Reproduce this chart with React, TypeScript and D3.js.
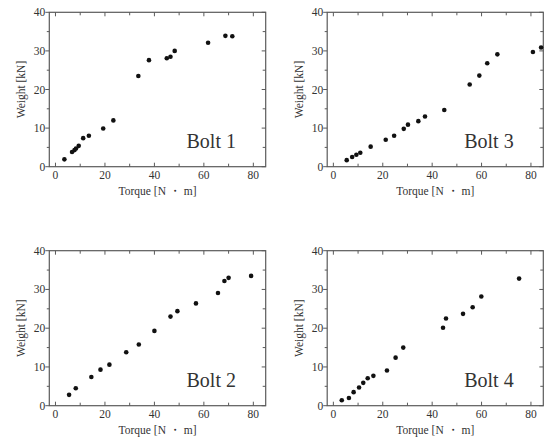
import React from "react";
import * as d3 from "d3";

const bolt1Torque = [3.6, 6.7, 7.7, 8.3, 9.4, 11.2, 13.5, 19.3, 23.4, 33.5, 37.8, 45.0, 46.5, 48.2, 61.7, 68.7, 71.5];
const bolt1Weight = [1.9, 3.8, 4.3, 4.7, 5.4, 7.4, 8.0, 9.9, 12.0, 23.5, 27.6, 28.1, 28.5, 30.0, 32.1, 33.9, 33.8];

const bolt3Torque = [5.4, 7.6, 9.3, 10.9, 15.1, 21.2, 24.6, 28.5, 30.2, 34.4, 37.1, 44.9, 55.2, 59.1, 62.3, 66.4, 80.8, 84.1];
const bolt3Weight = [1.7, 2.5, 3.1, 3.6, 5.2, 7.0, 8.0, 9.8, 10.9, 11.8, 13.0, 14.7, 21.3, 23.6, 26.8, 29.1, 29.7, 30.9];

const bolt2Torque = [5.5, 8.2, 14.5, 18.2, 21.8, 28.6, 33.7, 40.0, 46.5, 49.3, 56.8, 65.7, 68.3, 70.0, 79.1];
const bolt2Weight = [2.8, 4.5, 7.4, 9.3, 10.6, 13.8, 15.8, 19.3, 23.0, 24.4, 26.4, 29.1, 32.2, 33.0, 33.5];

const bolt4Torque = [3.4, 6.3, 8.2, 10.4, 12.1, 13.9, 16.2, 21.7, 25.2, 28.3, 44.4, 45.6, 52.5, 56.4, 59.9, 75.2];
const bolt4Weight = [1.4, 2.0, 3.5, 4.7, 5.9, 7.1, 7.7, 9.1, 12.4, 15.0, 20.1, 22.5, 23.7, 25.4, 28.2, 32.8];

const xTickLabels = [0, 20, 40, 60, 80];
const yTickLabels = [0, 10, 20, 30, 40];
const xMinorTicks = [10, 30, 50, 70];
const yMinorTicks = [5, 15, 25, 35];

const xDomain: [number, number] = [-2.5, 85];
const yDomain: [number, number] = [0, 40];

const FONT = "Liberation Serif, Times New Roman, DejaVu Serif, serif";
const FRAME = "#5a5a5a";
const TEXT = "#333";

type PanelProps = {
  left: number;
  top: number;
  width: number;
  height: number;
  label: string;
  xs: number[];
  ys: number[];
};

function Panel({ left, top, width, height, label, xs, ys }: PanelProps) {
  const x = d3.scaleLinear().domain(xDomain).range([left, left + width]);
  const y = d3.scaleLinear().domain(yDomain).range([top + height, top]);
  const bottom = top + height;
  const right = left + width;
  const majLen = 4;
  const minLen = 3;
  const ts = { fontFamily: FONT };
  return (
    <g>
      <rect x={left} y={top} width={width} height={height} fill="none" stroke={FRAME} strokeWidth={1.2} />
      {xTickLabels.map((t) => (
        <g key={"xt" + t}>
          <line x1={x(t)} x2={x(t)} y1={bottom} y2={bottom - majLen} stroke={FRAME} strokeWidth={1} />
          <line x1={x(t)} x2={x(t)} y1={top} y2={top + majLen} stroke={FRAME} strokeWidth={1} />
          <text x={x(t)} y={bottom + 12} textAnchor="middle" fontSize={11.5} style={ts} fill={TEXT}>
            {t}
          </text>
        </g>
      ))}
      {xMinorTicks.map((t) => (
        <g key={"xm" + t}>
          <line x1={x(t)} x2={x(t)} y1={bottom} y2={bottom - minLen} stroke={FRAME} strokeWidth={1} />
          <line x1={x(t)} x2={x(t)} y1={top} y2={top + minLen} stroke={FRAME} strokeWidth={1} />
        </g>
      ))}
      {yTickLabels.map((t) => (
        <g key={"yt" + t}>
          <line x1={left} x2={left - majLen} y1={y(t)} y2={y(t)} stroke={FRAME} strokeWidth={1} />
          <line x1={right} x2={right - majLen} y1={y(t)} y2={y(t)} stroke={FRAME} strokeWidth={1} />
          <text x={left - 4} y={y(t) + 4} textAnchor="end" fontSize={11.5} style={ts} fill={TEXT}>
            {t}
          </text>
        </g>
      ))}
      {yMinorTicks.map((t) => (
        <g key={"ym" + t}>
          <line x1={left} x2={left - 2.5} y1={y(t)} y2={y(t)} stroke={FRAME} strokeWidth={1} />
          <line x1={right} x2={right - minLen} y1={y(t)} y2={y(t)} stroke={FRAME} strokeWidth={1} />
        </g>
      ))}
      {xs.map((v, i) => (
        <circle key={"p" + i} cx={x(v)} cy={y(ys[i])} r={2.3} fill="#111" />
      ))}
      <text x={left + width * 0.634} y={bottom - 18.5} fontSize={20} style={ts} fill={TEXT}>
        {label}
      </text>
      <text x={left + width / 2} y={bottom + 28} textAnchor="middle" fontSize={11.5} style={ts} fill={TEXT}>
        Torque [N ・ m]
      </text>
      <text
        transform={`translate(${left - 24},${top + height / 2}) rotate(-90)`}
        textAnchor="middle"
        fontSize={11.5}
        style={ts}
        fill={TEXT}
      >
        Weight [kN]
      </text>
    </g>
  );
}

export default function App() {
  return (
    <svg width={549} height={439} style={{ position: "absolute", left: 0, top: 0, background: "#fff", fontFamily: FONT }}>
      <rect x={0} y={0} width={549} height={439} fill="#fff" />
      <Panel left={49.3} top={12.3} width={216.4} height={154.4} label="Bolt 1" xs={bolt1Torque} ys={bolt1Weight} />
      <Panel left={327.2} top={12.3} width={216.1} height={154.4} label="Bolt 3" xs={bolt3Torque} ys={bolt3Weight} />
      <Panel left={49.3} top={250.7} width={216.4} height={155} label="Bolt 2" xs={bolt2Torque} ys={bolt2Weight} />
      <Panel left={327.2} top={250.7} width={216.1} height={155} label="Bolt 4" xs={bolt4Torque} ys={bolt4Weight} />
    </svg>
  );
}
